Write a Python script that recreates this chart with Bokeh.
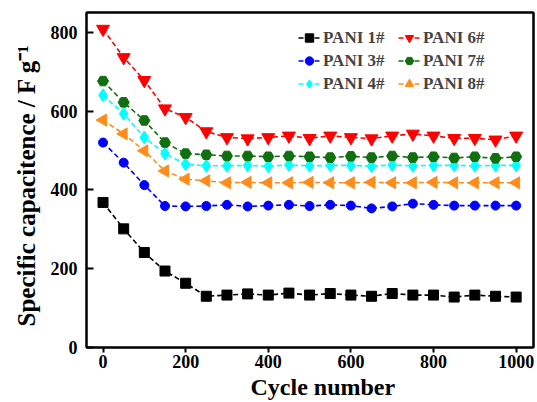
from bokeh.plotting import figure
from bokeh.models import Legend, LegendItem, Range1d, FixedTicker, LinearAxis, Title
from bokeh.embed import file_html
from bokeh.resources import INLINE

cycles = [0, 50, 100, 150, 200, 250, 300, 350, 400, 450, 500, 550, 600, 650, 700, 750, 800, 850, 900, 950, 1000]
pani1 = [368, 301, 241, 194, 163, 130, 133, 136, 133, 138, 133, 137, 133, 130, 137, 133, 133, 128, 133, 130, 128]
pani3 = [520, 469, 412, 359, 358, 359, 362, 358, 360, 362, 359, 362, 360, 353, 358, 365, 362, 360, 360, 360, 360]
pani4 = [640, 593, 533, 492, 465, 461, 461, 462, 460, 463, 461, 462, 462, 460, 463, 461, 462, 462, 461, 462, 462]
pani6 = [808, 736, 678, 606, 584, 548, 533, 530, 533, 537, 531, 537, 533, 530, 537, 542, 537, 531, 531, 527, 537]
pani7 = [676, 622, 576, 520, 492, 489, 486, 486, 484, 486, 484, 482, 485, 482, 486, 482, 484, 481, 484, 480, 484]
pani8 = [577, 542, 499, 448, 427, 423, 418, 419, 418, 418, 419, 418, 418, 419, 418, 418, 419, 418, 418, 418, 418]

labels = ["PANI 1#", "PANI 3#", "PANI 4#", "PANI 6#", "PANI 7#", "PANI 8#"]
x_ticks = [0, 200, 400, 600, 800, 1000]
y_ticks = [0, 200, 400, 600, 800]
x_title = "Cycle number"
y_title = "Specific capacitence / F g\u207b\u00b9"

series = [
    (pani1, "black", "square", 10, 0.0),
    (pani3, "#0000ff", "circle", 9, 0.0),
    (pani4, "#00ffff", "diamond", 13, 0.0),
    (pani6, "#ff0000", "inverted_triangle", 13, 0.0),
    (pani7, "#107010", "hex", 11, 0.0),
    (pani8, "#ff8c1a", "triangle", 12, 1.5708),
]

p = figure(width=536, height=401, output_backend="svg", toolbar_location=None,
           x_range=Range1d(-40, 1042), y_range=Range1d(0, 850),
           min_border_left=86, min_border_right=3, min_border_top=12, min_border_bottom=54)
p.xgrid.visible = False
p.ygrid.visible = False
p.outline_line_color = "black"
p.outline_line_width = 2

xa = p.below[0]
ya = p.left[0]

for side in ("above", "right"):
    ax = LinearAxis(ticker=FixedTicker(ticks=[]), axis_line_width=2, axis_line_color="black",
                    major_tick_line_color=None, minor_tick_line_color=None,
                    major_label_text_font_size="0px", major_label_standoff=0)
    p.add_layout(ax, side)

items = []
for (vals, col, mk, sz, ang), lab in zip(series, labels):
    lr = p.line(cycles, vals, line_color=col, line_width=1.6, line_dash="5 3")
    sr = p.scatter(cycles, vals, marker=mk, size=sz, fill_color=col, line_color=col, angle=ang)
    items.append(LegendItem(label=lab, renderers=[lr, sr]))

font = "Times New Roman"
for its, vx in ((items[:3], 212), (items[3:], 312)):
    lg = Legend(items=its, location=(vx, 253))
    lg.label_text_font = font
    lg.label_text_font_style = "bold"
    lg.label_text_font_size = "17px"
    lg.label_height = 21
    lg.glyph_height = 21
    lg.glyph_width = 22
    lg.label_standoff = 3
    lg.spacing = 2
    lg.padding = 0
    lg.margin = 0
    lg.border_line_color = None
    lg.background_fill_alpha = 0
    p.add_layout(lg, "center")

for ax in (xa, ya):
    ax.axis_line_width = 2
    ax.major_tick_line_width = 2
    ax.minor_tick_line_color = None
    ax.major_label_text_font = font
    ax.major_label_text_font_style = "bold"
    ax.major_label_text_font_size = "18px"
    ax.major_label_text_color = "black"

xa.ticker = FixedTicker(ticks=x_ticks)
ya.ticker = FixedTicker(ticks=y_ticks)
xa.major_tick_out = 5
xa.major_tick_in = 0
xa.major_label_standoff = 2
ya.major_tick_in = 7
ya.major_tick_out = 0
ya.major_label_standoff = 9

tx = Title(text=x_title, align="left", offset=164, standoff=3,
           text_font=font, text_font_style="bold", text_font_size="24px", text_color="black")
p.add_layout(tx, "below")
ty = Title(text=y_title, align="left", offset=21, standoff=15,
           text_font=font, text_font_style="bold", text_font_size="25px", text_color="black")
p.add_layout(ty, "left")

open("out.html", "w").write(file_html(p, INLINE))
